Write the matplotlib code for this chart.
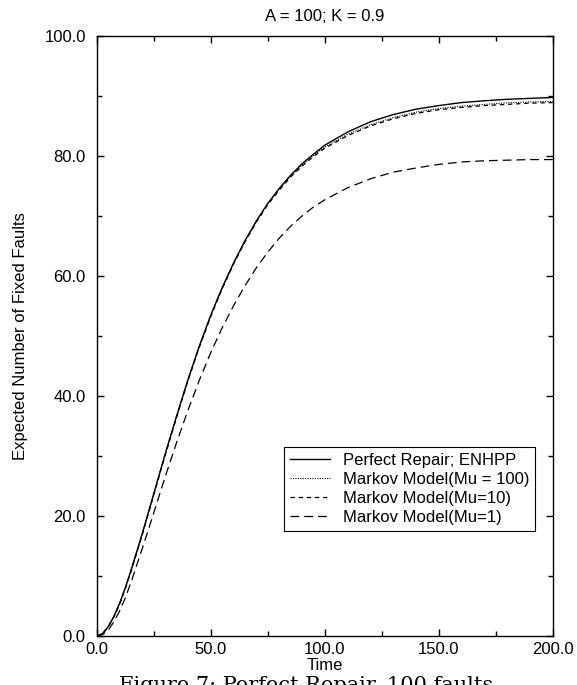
import numpy as np
import matplotlib
matplotlib.use("Agg")
import matplotlib.pyplot as plt
from matplotlib.ticker import MultipleLocator, FormatStrFormatter

plt.rcParams['font.family'] = ['Liberation Sans', 'DejaVu Sans']

# time points
t = [0, 2.5, 5, 7.5, 10, 12.5, 15, 20, 25, 30, 35, 40, 45, 50, 55, 60, 65, 70, 75, 80, 85,
     90, 95, 100, 110, 120, 130, 140, 150, 160, 170, 180, 190, 200]

perfect = [0.0, 0.42, 1.6, 3.3, 5.5, 8.1, 11.0, 17.2, 23.8, 30.4, 36.7, 42.8, 48.4, 53.5,
           58.1, 62.2, 65.9, 69.2, 72.1, 74.6, 76.8, 78.7, 80.3, 81.8, 84.0, 85.7, 86.9,
           87.8, 88.4, 88.9, 89.2, 89.45, 89.6, 89.75]
mu100 = [0.0, 0.42, 1.6, 3.3, 5.5, 8.1, 11.0, 17.2, 23.8, 30.4, 36.7, 42.8, 48.4, 53.5,
         58.1, 62.2, 65.9, 69.2, 72.1, 74.5, 76.7, 78.5, 80.1, 81.5, 83.6, 85.2, 86.4,
         87.3, 87.9, 88.3, 88.6, 88.85, 89.0, 89.1]
mu10 = [0.0, 0.38, 1.5, 3.2, 5.3, 7.95, 10.8, 17.0, 23.6, 30.2, 36.5, 42.6, 48.2, 53.3,
        57.9, 62.0, 65.7, 69.0, 71.9, 74.3, 76.5, 78.3, 79.9, 81.3, 83.4, 85.0, 86.2,
        87.1, 87.7, 88.1, 88.4, 88.6, 88.8, 88.9]
mu1 = [0.0, 0.25, 1.0, 2.4, 4.2, 6.4, 9.0, 14.7, 20.6, 26.6, 32.3, 37.7, 42.7, 47.3,
       51.4, 55.1, 58.4, 61.4, 64.0, 66.3, 68.3, 70.0, 71.5, 72.7, 74.7, 76.2, 77.3,
       78.0, 78.6, 79.0, 79.2, 79.3, 79.4, 79.4]

labels = ["Perfect Repair; ENHPP", "Markov Model(Mu = 100)",
          "Markov Model(Mu=10)", "Markov Model(Mu=1)"]

fig = plt.figure(figsize=(5.77, 6.85), dpi=100)
ax = fig.add_axes([0.168, 0.0715, 0.790, 0.876])

ax.plot(t, perfect, color='black', lw=1.0, ls='-', label=labels[0])
ax.plot(t, mu100, color='black', lw=0.8, ls=(0, (1, 1.2)), label=labels[1])
ax.plot(t, mu10, color='black', lw=0.9, ls=(0, (3.5, 3)), label=labels[2])
ax.plot(t, mu1, color='black', lw=0.9, ls=(0, (7, 4)), label=labels[3])

ax.set_xlim(0, 200)
ax.set_ylim(0, 100)
ax.xaxis.set_major_locator(MultipleLocator(50))
ax.xaxis.set_minor_locator(MultipleLocator(25))
ax.yaxis.set_major_locator(MultipleLocator(20))
ax.yaxis.set_minor_locator(MultipleLocator(10))
ax.xaxis.set_major_formatter(FormatStrFormatter('%.1f'))
ax.yaxis.set_major_formatter(FormatStrFormatter('%.1f'))
ax.tick_params(which='both', direction='in', top=True, right=True, labelsize=12)
ax.tick_params(which='major', length=5, width=1)
ax.tick_params(which='minor', length=3.5, width=1)
ax.tick_params(axis='y', pad=8)
ax.tick_params(axis='x', pad=4)
for s in ax.spines.values():
    s.set_linewidth(1.0)

ax.set_title("A = 100; K = 0.9", fontsize=12, pad=11)
ax.set_xlabel("Time", fontsize=12, labelpad=1)
ax.set_ylabel("Expected Number of Fixed Faults", fontsize=12, labelpad=12)

leg = ax.legend(loc='lower left', bbox_to_anchor=(0.41, 0.175), fontsize=12,
                frameon=True, fancybox=False, edgecolor='black', framealpha=1,
                handlelength=2.4, handletextpad=0.8, labelspacing=0.25,
                borderpad=0.35, borderaxespad=0)
leg.get_frame().set_linewidth(0.8)

# caption of the page, cut off by the bottom edge as in the source
fig.text(0.53, 0.013, "Figure 7: Perfect Repair, 100 faults", family='DejaVu Serif',
         fontsize=15, ha='center', va='top')

fig.savefig("out.png", dpi=100)
